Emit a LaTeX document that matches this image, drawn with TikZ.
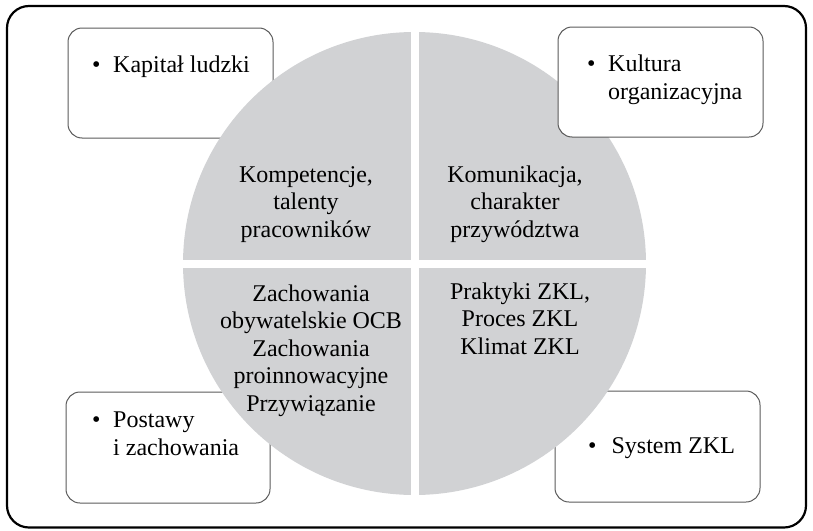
\documentclass[tikz,border=0pt]{standalone}
\usepackage{fontspec}
\setmainfont{Liberation Serif}
\definecolor{discgrey}{RGB}{209,210,212}
\definecolor{boxline}{RGB}{90,90,90}
\tikzset{
  infobox/.style={draw=boxline, line width=1pt, rounded corners=14pt, inner sep=0pt},
  bullettext/.style={anchor=base west, inner sep=0pt, font=\fontsize{24}{28}\selectfont},
  disctext/.style={anchor=base, inner sep=0pt, font=\fontsize{24}{27.5}\selectfont},
}
\newcommand{\bulletlines}[1]{\begin{tabular}[t]{@{}l@{\hspace{12.6pt}}l@{}}#1\end{tabular}}
\newcommand{\centerlines}[1]{\begin{tabular}[t]{@{}c@{}}#1\end{tabular}}
\begin{document}
\begin{tikzpicture}[x=1pt,y=-1pt]
\useasboundingbox (0,0) rectangle (813,530);

% outer frame
\draw[line width=2.2pt, rounded corners=22pt] (7,6) rectangle (806,527.5);

% boxes lying beneath the disc
\node[infobox, minimum width=205pt, minimum height=110pt] (boxTL) at (170.5,83) {};
\node[infobox, minimum width=204pt, minimum height=111pt] (boxBL) at (168,447.5) {};
\node[infobox, minimum width=205pt, minimum height=111pt] (boxBR) at (657.5,446.5) {};

% the disc split into four quarters
\coordinate (c) at (414.5,263.5);
\fill[discgrey] (c) circle (231.5);
\draw[white, line width=8pt] ([xshift=-240pt]c) -- ([xshift=240pt]c);
\draw[white, line width=8pt] ([yshift=240pt]c) -- ([yshift=-240pt]c);

% box lying above the disc
\node[infobox, fill=white, minimum width=205pt, minimum height=110pt] (boxTR) at (660.5,82) {};

% box labels
\node[bullettext] (labTL) at (92,72) {\bulletlines{•&Kapitał ludzki}};
\node[bullettext] (labTR) at (587,71) {\bulletlines{•&Kultura\\&organizacyjna}};
\node[bullettext] (labBL) at (92,427) {\bulletlines{•&Postawy\\&i zachowania}};
\node[bullettext] (labBR) at (588,453) {\begin{tabular}[t]{@{}l@{\hspace{15pt}}l@{}}•&System ZKL\end{tabular}};

% quarter labels
\node[disctext] (qTL) at (306,182) {\centerlines{Kompetencje,\\talenty\\pracowników}};
\node[disctext] (qTR) at (515,182) {\centerlines{Komunikacja,\\charakter\\przywództwa}};
\node[disctext] (qBL) at (311,301) {\centerlines{Zachowania\\obywatelskie OCB\\Zachowania\\proinnowacyjne\\Przywiązanie}};
\node[disctext] (qBR) at (520,299) {\centerlines{Praktyki ZKL,\\Proces ZKL\\Klimat ZKL}};
\end{tikzpicture}
\end{document}
